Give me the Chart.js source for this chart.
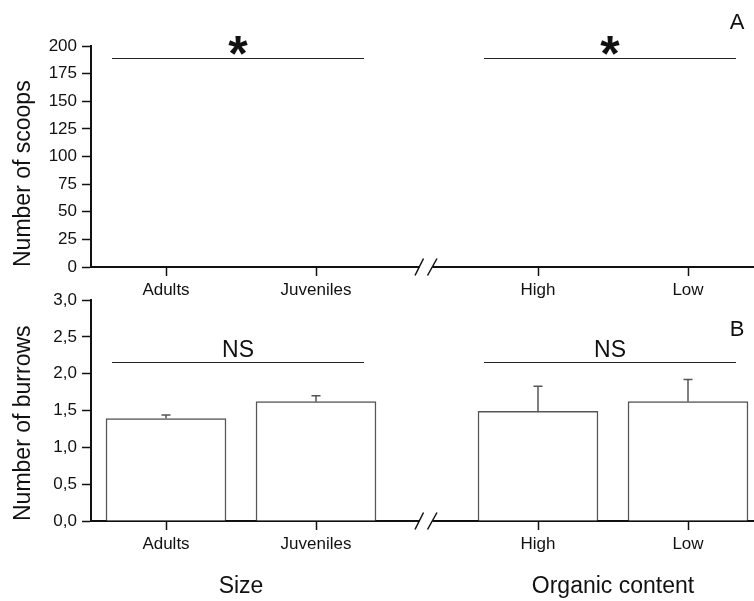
<!DOCTYPE html>
<html lang="en">
<head>
<meta charset="UTF-8">
<title>Scoops and burrows</title>
<script src="https://cdn.jsdelivr.net/npm/chart.js"></script>
<style>
  body { margin: 0; background: #fff; }
  #wrap { position: relative; width: 754px; height: 601px; }
  .panel { position: absolute; left: 0; }
  #panelA { top: 0; }
  #panelB { top: 280px; }
</style>
</head>
<body>
<div id="wrap">
  <div class="panel" id="panelA"><canvas id="chartA" width="754" height="300"></canvas></div>
  <div class="panel" id="panelB"><canvas id="chartB" width="754" height="321"></canvas></div>
</div>
<script>
// categories, two groups of two
const categories = ['Adults', 'Juveniles', 'High', 'Low'];
const groupTitles = ['Size', 'Organic content'];

// panel A - no bars visible in the figure, only the significance marks
const scoopsMeans = [];
const scoopsTicks = ['0', '25', '50', '75', '100', '125', '150', '175', '200'];
const scoopsSigLevel = [189, 189];
const scoopsSigText = ['*', '*'];

// panel B
const burrowMeans = [1.39, 1.62, 1.49, 1.62];
const burrowErrors = [0.05, 0.08, 0.34, 0.30];
const burrowTicks = ['0,0', '0,5', '1,0', '1,5', '2,0', '2,5', '3,0'];
const burrowSigLevel = [2.16, 2.16];
const burrowSigText = ['NS', 'NS'];

const FONT = '"Liberation Sans", Arial, sans-serif';
const INK = '#111';

// x slot of category i (extra gap between the two groups, where the axis is broken)
const groupGap = 0.48;
const slot = i => i + 1 + (i > 1 ? groupGap : 0);

const marks = {
    id: 'marks',
    afterDatasetsDraw(chart, args, o) {
        const { ctx, scales: { x, y }, chartArea } = chart;
        ctx.save();

        // error bars (upper only)
        if (o.errors) {
            const meta = chart.getDatasetMeta(0);
            ctx.strokeStyle = '#555';
            ctx.lineWidth = 1.5;
            meta.data.forEach((bar, i) => {
                const top = y.getPixelForValue(o.means[i] + o.errors[i]);
                ctx.beginPath();
                ctx.moveTo(bar.x, bar.y);
                ctx.lineTo(bar.x, top);
                ctx.moveTo(bar.x - 4.5, top);
                ctx.lineTo(bar.x + 4.5, top);
                ctx.stroke();
            });
        }

        // significance lines + labels
        o.sigLevel.forEach((lvl, g) => {
            const x0 = x.getPixelForValue(slot(2 * g) - 0.36);
            const x1 = x.getPixelForValue(slot(2 * g + 1) + 0.32);
            const yy = Math.round(y.getPixelForValue(lvl)) + 0.5;
            ctx.strokeStyle = '#222';
            ctx.lineWidth = 1.2;
            ctx.beginPath();
            ctx.moveTo(x0, yy);
            ctx.lineTo(x1, yy);
            ctx.stroke();

            ctx.font = o.sigFont;
            ctx.fillStyle = INK;
            ctx.textAlign = 'center';
            ctx.textBaseline = 'alphabetic';
            const m = ctx.measureText(o.sigText[g]);
            const cy = yy - o.sigGap;
            ctx.fillText(o.sigText[g], (x0 + x1) / 2,
                cy + (m.actualBoundingBoxAscent - m.actualBoundingBoxDescent) / 2);
        });

        // axis break "//"
        const bx = x.getPixelForValue((slot(1) + slot(2)) / 2);
        const ay = chartArea.bottom;
        ctx.fillStyle = '#fff';
        ctx.fillRect(bx - 7.5, ay - 2, 13, 4);
        ctx.strokeStyle = INK;
        ctx.lineWidth = 1.5;
        ctx.beginPath();
        ctx.moveTo(bx - 12, ay + 8.5);
        ctx.lineTo(bx - 3.5, ay - 8.5);
        ctx.moveTo(bx + 0.5, ay + 8.5);
        ctx.lineTo(bx + 10, ay - 8.5);
        ctx.stroke();

        // panel letter
        ctx.font = '22px ' + FONT;
        ctx.fillStyle = INK;
        ctx.textAlign = 'center';
        ctx.textBaseline = 'alphabetic';
        ctx.fillText(o.letter, 737, o.letterY);

        // group titles under the x axis
        if (o.groupY) {
            ctx.font = '23px ' + FONT;
            groupTitles.forEach((t, g) => {
                const cx = x.getPixelForValue((slot(2 * g) + slot(2 * g + 1)) / 2);
                ctx.fillText(t, cx, o.groupY);
            });
        }
        ctx.restore();
    }
};

function xScale(axisHeight) {
    return {
        type: 'linear',
        min: 0.5,
        max: 0.5 + 663 / 150,
        offset: false,
        grid: { display: true, drawOnChartArea: false, offset: false, tickLength: 9, tickColor: INK, tickWidth: 1.5 },
        border: { display: true, color: INK, width: 2 },
        afterBuildTicks: s => { s.ticks = categories.map((c, i) => ({ value: slot(i) })); },
        ticks: {
            autoSkip: false, maxRotation: 0, padding: 4, color: INK,
            font: { family: FONT, size: 17 },
            callback: (v, i) => categories[i]
        },
        afterFit: s => { s.height = axisHeight; }
    };
}

function yScale(max, step, labels, title) {
    return {
        type: 'linear',
        min: 0,
        max: max,
        grid: { drawOnChartArea: false, tickLength: 9, tickColor: INK, tickWidth: 1.5 },
        border: { display: true, color: INK, width: 2 },
        ticks: {
            stepSize: step, padding: 5, color: INK,
            font: { family: FONT, size: 17 },
            callback: (v, i) => labels[i]
        },
        title: {
            display: true, text: title, align: 'start', color: INK,
            font: { family: FONT, size: 23 },
            padding: { top: 9.5, bottom: 0 }
        },
        afterFit: s => { s.width = 91; }
    };
}

new Chart(document.getElementById('chartA'), {
    type: 'bar',
    data: {
        datasets: [{
            data: scoopsMeans,
            backgroundColor: '#fff',
            borderColor: '#555',
            borderWidth: 1.5,
            barThickness: 120
        }]
    },
    options: {
        responsive: false,
        animation: false,
        layout: { padding: { top: 46, right: 0, bottom: 0, left: 0 } },
        scales: {
            x: xScale(33),
            y: yScale(200, 25, scoopsTicks, 'Number of scoops')
        },
        plugins: {
            legend: { display: false },
            tooltip: { enabled: false },
            marks: {
                sigLevel: scoopsSigLevel, sigText: scoopsSigText,
                sigFont: 'bold 50px ' + FONT, sigGap: 13,
                letter: 'A', letterY: 28.5
            }
        }
    },
    plugins: [marks]
});

new Chart(document.getElementById('chartB'), {
    type: 'bar',
    data: {
        datasets: [{
            data: burrowMeans.map((m, i) => ({ x: slot(i), y: m })),
            backgroundColor: '#fff',
            borderColor: '#555',
            borderWidth: 1.5,
            barThickness: 120
        }]
    },
    options: {
        responsive: false,
        animation: false,
        layout: { padding: { top: 20, right: 0, bottom: 0, left: 0 } },
        scales: {
            x: xScale(80),
            y: yScale(3, 0.5, burrowTicks, 'Number of burrows')
        },
        plugins: {
            legend: { display: false },
            tooltip: { enabled: false },
            marks: {
                means: burrowMeans, errors: burrowErrors,
                sigLevel: burrowSigLevel, sigText: burrowSigText,
                sigFont: '23px ' + FONT, sigGap: 14.5,
                letter: 'B', letterY: 56, groupY: 313
            }
        }
    },
    plugins: [marks]
});
</script>
</body>
</html>
